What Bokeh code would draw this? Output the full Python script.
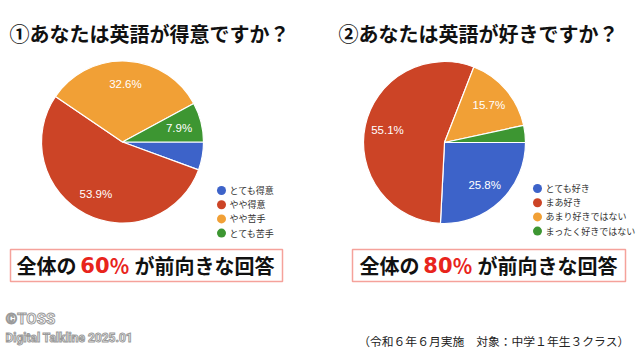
import numpy as np
from bokeh.plotting import figure
from bokeh.models import Range1d
from bokeh.core.properties import value
from bokeh.embed import file_html
from bokeh.resources import INLINE

# ---------------- data ----------------
titles = ["①あなたは英語が得意ですか？", "②あなたは英語が好きですか？"]
q1_labels = ["とても得意", "やや得意", "やや苦手", "とても苦手"]
q1_values = [5.6, 53.9, 32.6, 7.9]
q2_labels = ["とても好き", "まあ好き", "あまり好きではない", "まったく好きではない"]
q2_values = [25.8, 55.1, 15.7, 3.4]
colors = ["#3d63c9", "#cc4426", "#f1a036", "#3d9632"]
summary_pre = "全体の"
summary_num = ["60", "80"]
summary_pctsign = "％"
summary_post = "が前向きな回答"
footnote = "（令和６年６月実施　対象：中学１年生３クラス）"
credit1 = "©TOSS"
credit2 = "Digital Talkline 2025.01"

H = 351
def Y(py):
    return H - py

p = figure(width=640, height=351, x_range=Range1d(0, 640), y_range=Range1d(0, H),
           output_backend="svg", toolbar_location=None, min_border=0,
           x_axis_location=None, y_axis_location=None)
p.grid.visible = False
p.outline_line_color = None
p.background_fill_color = "white"
p.border_fill_color = "white"

CJK = value("Noto Sans CJK JP")

def pie(cx, cy, r, vals, labels, legend_x, legend_y0, title, title_x):
    v = np.array(vals, dtype=float)
    frac = v / v.sum()
    cum = np.cumsum(frac)
    prev = cum - frac
    start = -2 * np.pi * cum
    end = -2 * np.pi * prev
    p.wedge(x=cx, y=Y(cy), radius=r, start_angle=list(start), end_angle=list(end),
            fill_color=colors, line_color="white", line_width=1.2)
    mid = (start + end) / 2
    show = [f"{x:.1f}%" if x >= 7 else "" for x in vals]
    lx = cx + 0.72 * r * np.cos(mid)
    ly = Y(cy) + 0.72 * r * np.sin(mid)
    p.text(x=list(lx), y=list(ly), text=show, text_color="white",
           text_font=value("Liberation Sans"), text_font_size="11.5px",
           text_align="center", text_baseline="middle")
    # legend
    ys = [Y(legend_y0 + 14.2 * i) for i in range(len(labels))]
    p.scatter(x=[legend_x] * len(labels), y=ys, size=9, fill_color=colors, line_color=None)
    p.text(x=[legend_x + 8] * len(labels), y=ys, text=labels, text_color="#333333",
           text_font=CJK, text_font_size="9px", text_baseline="middle", text_align="left")
    # title
    p.text(x=[title_x], y=[Y(33)], text=[title], text_color="#111111", text_font=CJK,
           text_font_size="20px", text_font_style="bold", text_baseline="middle")

pie(122, 141.5, 81, q1_values, q1_labels, 221, 190, titles[0], 9)
pie(444, 142, 81, q2_values, q2_labels, 537, 188, titles[1], 338)

# summary boxes
p.quad(left=[10, 352], right=[282, 625], top=[Y(249), Y(249)], bottom=[Y(281), Y(281)],
       fill_color=None, line_color="#f5a29b", line_width=1.5)
for i, x0 in enumerate([16, 359]):
    yy = Y(265)
    p.text(x=[x0, x0 + 118], y=[yy] * 2, text=[summary_pre, summary_post], text_color="#111111",
           text_font=CJK, text_font_size="20px", text_font_style="bold", text_baseline="middle")
    p.text(x=[x0 + 93], y=[yy + 1], text=[summary_num[i]], text_color="#e8241c",
           text_font=value("DejaVu Sans"), text_font_size="21px", text_font_style="bold",
           text_baseline="middle", text_align="right")
    p.text(x=[x0 + 93], y=[yy], text=[summary_pctsign], text_color="#e8241c",
           text_font=CJK, text_font_size="20px", text_font_style="bold",
           text_baseline="middle", text_align="left")

# footnote
p.text(x=[629], y=[Y(340)], text=[footnote], text_color="#222222", text_font=CJK,
       text_font_size="11.8px", text_align="right", text_baseline="middle")

# credits
p.text(x=[5, 5], y=[Y(318), Y(337)], text=[credit1, credit2], text_color="white",
       text_outline_color="#9a9a9a", text_font=value("Roboto"),
       text_font_size=["15px", "12px"], text_font_style="bold", text_baseline="middle")

open("out.html", "w").write(file_html(p, INLINE))
